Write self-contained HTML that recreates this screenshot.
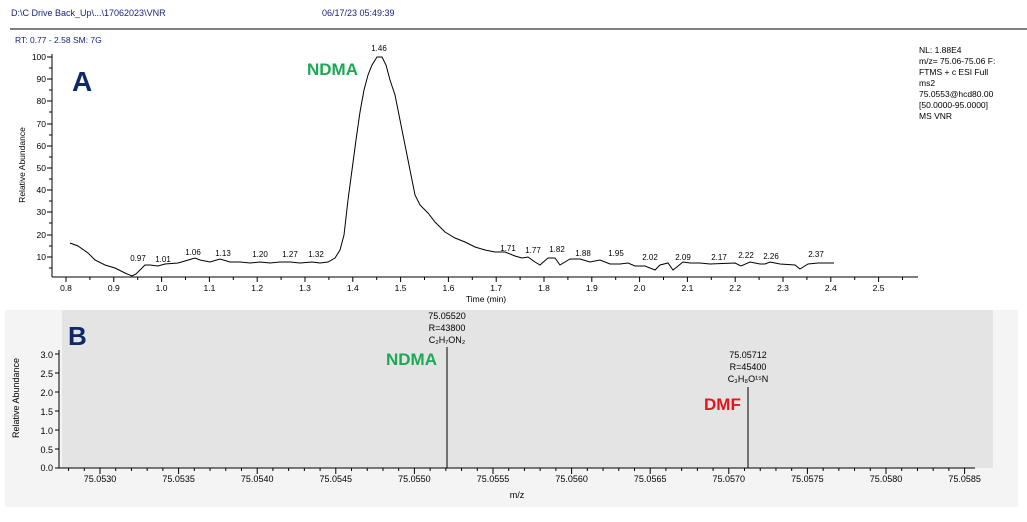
<!DOCTYPE html>
<html><head><meta charset="utf-8"><style>
body{margin:0;background:#fff;width:1027px;height:517px;overflow:hidden;font-family:"Liberation Sans",sans-serif}
</style></head><body>
<svg width="1027" height="517" xmlns="http://www.w3.org/2000/svg" font-family="Liberation Sans, sans-serif">
<text x="11" y="16" font-size="9" fill="#1a237e">D:\C Drive Back_Up\...\17062023\VNR</text>
<text x="322" y="16" font-size="9" fill="#1a237e">06/17/23 05:49:39</text>
<line x1="10" y1="29" x2="1027" y2="29" stroke="#000" stroke-width="1"/>
<text x="15" y="43" font-size="8.5" fill="#1a237e">RT: 0.77 - 2.58   SM: 7G</text>
<g font-size="8.5" fill="#000">
<text x="919" y="53">NL: 1.88E4</text>
<text x="919" y="64">m/z= 75.06-75.06 F:</text>
<text x="919" y="75">FTMS + c ESI Full</text>
<text x="919" y="86">ms2</text>
<text x="919" y="97">75.0553@hcd80.00</text>
<text x="919" y="108">[50.0000-95.0000]</text>
<text x="919" y="119">MS VNR</text>
</g>
<!-- Panel A axes -->
<line x1="52" y1="54" x2="52" y2="277" stroke="#000"/>
<line x1="52" y1="277" x2="918" y2="277" stroke="#000"/>
<g font-size="8.5" text-anchor="end">
<text x="46" y="60">100</text><text x="46" y="82">90</text><text x="46" y="104">80</text><text x="46" y="127">70</text><text x="46" y="149">60</text><text x="46" y="171">50</text><text x="46" y="193">40</text><text x="46" y="215">30</text><text x="46" y="238">20</text><text x="46" y="260">10</text>
</g>
<g stroke="#000">
<path d="M47 57H52M47 79H52M47 101H52M47 124H52M47 146H52M47 168H52M47 190H52M47 212H52M47 235H52M47 257H52"/>
<path d="M49 68H52M49 90H52M49 112H52M49 135H52M49 157H52M49 179H52M49 201H52M49 223H52M49 246H52M49 268H52"/>
</g>
<g stroke="#000" id="xt"></g>
<g font-size="8.5" text-anchor="middle" id="xl"></g>
<text x="486" y="302" font-size="8.5" text-anchor="middle">Time (min)</text>
<text transform="translate(25,165) rotate(-90)" font-size="8.5" text-anchor="middle">Relative Abundance</text>
<text x="72" y="91" font-size="28" font-weight="bold" fill="#0d2a66">A</text>
<text x="307" y="75" font-size="17" font-weight="bold" fill="#1aaa55">NDMA</text>
<polyline fill="none" stroke="#000" stroke-width="1" points="70,243 78,246 88,253 95,260 105,265 115,268 125,273 132,276 136,274 145,265 150,265 158,266 165,264 178,263 185,261 195,258 200,260 210,262 220,259 230,262 240,262 250,263 260,262 270,263 280,262 290,262 300,263 312,262 320,263 328,262 335,258 340,250 344,235 348,200 352,170 356,140 360,112 364,90 368,75 372,65 377,57 382,57 386,65 390,80 395,95 400,120 405,145 410,170 415,195 420,205 428,213 435,222 445,232 455,238 465,242 475,247 485,250 495,252 505,252 515,256 522,258 528,257 535,262 540,265 548,258 555,258 560,265 570,259 580,259 590,262 600,260 610,264 620,264 628,263 635,266 645,266 655,270 660,265 668,263 673,270 683,262 690,263 700,263 710,264 735,263 741,266 750,262 760,264 765,264 770,262 780,264 795,265 800,269 808,264 818,263 834,263"/>
<g font-size="8" text-anchor="middle">
<text x="138" y="261">0.97</text><text x="163" y="262">1.01</text><text x="193" y="255">1.06</text><text x="223" y="256">1.13</text><text x="260" y="257">1.20</text><text x="290" y="257">1.27</text><text x="316" y="257">1.32</text><text x="379" y="51">1.46</text>
<text x="508" y="251">1.71</text><text x="533" y="253">1.77</text><text x="557" y="252">1.82</text><text x="583" y="256">1.88</text><text x="616" y="256">1.95</text><text x="650" y="260">2.02</text><text x="683" y="260">2.09</text><text x="719" y="260">2.17</text><text x="746" y="258">2.22</text><text x="771" y="259">2.26</text><text x="816" y="257">2.37</text>
</g>
<!-- Panel B -->
<rect x="5" y="310" width="1013" height="197" fill="#f4f4f4"/>
<rect x="62" y="310" width="931" height="158" fill="#e4e4e4"/>
<line x1="59" y1="350" x2="59" y2="468" stroke="#000"/>
<line x1="59" y1="468" x2="975" y2="468" stroke="#000"/>
<g font-size="9" text-anchor="end">
<text x="53" y="358">3.0</text><text x="53" y="377">2.5</text><text x="53" y="396">2.0</text><text x="53" y="415">1.5</text><text x="53" y="434">1.0</text><text x="53" y="453">0.5</text><text x="53" y="471">0.0</text>
</g>
<g stroke="#000"><path d="M55 354H59M55 373H59M55 392H59M55 411H59M55 430H59M55 449H59M55 468H59"/></g>
<text transform="translate(19,398) rotate(-90)" font-size="9" text-anchor="middle">Relative Abundance</text>
<g id="bt" stroke="#000"></g>
<g font-size="9" text-anchor="middle" id="bl"></g>
<text x="517" y="498" font-size="9" text-anchor="middle">m/z</text>
<text x="68" y="345" font-size="26" font-weight="bold" fill="#0d2a66">B</text>
<line x1="447" y1="347" x2="447" y2="468" stroke="#000"/>
<line x1="748" y1="387" x2="748" y2="468" stroke="#000"/>
<g font-size="9" text-anchor="middle">
<text x="447" y="319">75.05520</text><text x="447" y="331">R=43800</text><text x="447" y="343">C₂H₇ON₂</text>
<text x="748" y="358">75.05712</text><text x="748" y="370">R=45400</text><text x="748" y="382">C₃H₈O¹⁵N</text>
</g>
<text x="386" y="365" font-size="17" font-weight="bold" fill="#1aaa55">NDMA</text>
<text x="704" y="410" font-size="17" font-weight="bold" fill="#e8141b">DMF</text>
<script>
var ns="http://www.w3.org/2000/svg";
function L(g,x1,y1,x2,y2){var l=document.createElementNS(ns,"line");l.setAttribute("x1",x1);l.setAttribute("y1",y1);l.setAttribute("x2",x2);l.setAttribute("y2",y2);g.appendChild(l);}
function T(g,x,y,s){var t=document.createElementNS(ns,"text");t.setAttribute("x",x);t.setAttribute("y",y);t.textContent=s;g.appendChild(t);}
var xt=document.getElementById("xt"),xl=document.getElementById("xl");
for(var i=0;i<=35;i++){var x=66+i*23.9/1;var v=0.8+i*0.05;var px=66+(v-0.8)*478;if(px>918)break;L(xt,px,277,px,i%2?280:282);if(i%2==0)T(xl,px,291,v.toFixed(1));}
var bt=document.getElementById("bt"),bl=document.getElementById("bl");
for(var j=-6;j<=57;j++){var px=100+j*15.72;if(px<60||px>975)continue;L(bt,px,468,px,j%5==0?474:471);if(j%5==0&&j>=0)T(bl,px,482,(75.053+j*0.0001).toFixed(4));}
</script>
</svg>
</body></html>
